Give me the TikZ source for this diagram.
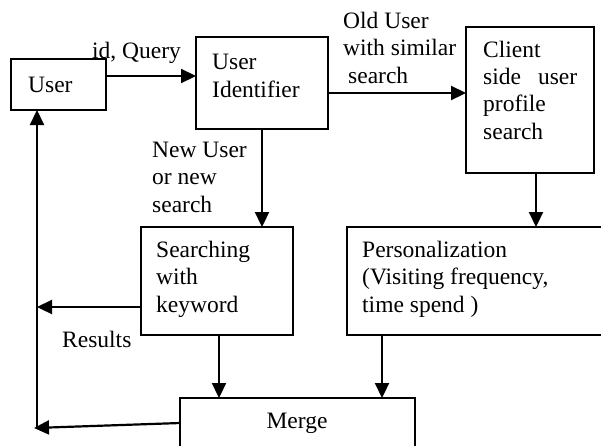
\documentclass[tikz,border=0pt]{standalone}
\usepackage{fontspec}
\setmainfont{Liberation Serif}
\usetikzlibrary{arrows.meta,calc}
\begin{document}
\begin{tikzpicture}[x=1pt,y=-1pt,
  box/.style={draw, line width=1.7pt, inner sep=0pt, outer sep=0pt},
  txt/.style={font=\fontsize{23.5}{27.3}\selectfont, inner sep=0pt, anchor=base west, align=left},
  arr/.style={line width=2.2pt, -{Triangle[length=15pt,width=14pt]}}]
\useasboundingbox (0,0) rectangle (601,445);
% boxes
\node[box, minimum width=95pt, minimum height=51pt] (user) at (58.5,84.5) {};
\node[box, minimum width=132pt, minimum height=92pt] (uid) at (262,83) {};
\node[box, minimum width=128pt, minimum height=146pt] (client) at (530,100) {};
\node[box, minimum width=152pt, minimum height=108pt] (search) at (217,281) {};
\node[box, minimum width=273pt, minimum height=108pt] (pers) at (483.5,281) {};
\node[box, minimum width=235pt, minimum height=72pt] (merge) at (297.5,434) {};
% texts (base anchor = baseline of the last line)
\node[txt] (tuser) at (28,92) {User};
\node[txt] (tuid) at (212,97) {User\\Identifier};
\node[txt] (tclient) at (483,139) {Client\\\makebox[94pt][s]{side\hfill user}\\profile\\search};
\node[txt] (tsearch) at (156,312) {Searching\\with\\keyword};
\node[txt] (tpers) at (362,312) {Personalization\\(Visiting frequency,\\time spend )};
\node[txt, anchor=base] (tmerge) at (297,428) {Merge};
\node[txt] (lquery) at (92,58) {id, Query};
\node[txt] (lold) at (343,83) {Old User\\with similar\\\hspace{5pt}search};
\node[txt] (lnew) at (152,212) {New User\\or new\\search};
\node[txt] (lres) at (62,347) {Results};
% helper coordinates
\coordinate (r1) at (0,76);
\coordinate (r2) at (0,93);
\coordinate (c1) at (536,0);
\coordinate (s1) at (219,0);
\coordinate (p1) at (382,0);
\coordinate (v) at (37,0);
\coordinate (rr) at (0,307);
\coordinate (mm) at (0,423);
\coordinate (bl) at (34,428);
\coordinate (vb) at (37,429);
% connectors
\draw[arr] (user.east |- r1) -- (uid.west |- r1);
\draw[arr] (uid.east |- r2) -- (client.west |- r2);
\draw[arr] (uid.south) -- (uid.south |- search.north);
\draw[arr] (client.south -| c1) -- (pers.north -| c1);
\draw[arr] (search.south -| s1) -- (merge.north -| s1);
\draw[arr] (pers.south -| p1) -- (merge.north -| p1);
\draw[arr] (search.west |- rr) -- (v |- rr);
\draw[arr] (merge.west |- mm) -- (bl);
\draw[arr] (vb) -- (user.south -| v);
\end{tikzpicture}
\end{document}
